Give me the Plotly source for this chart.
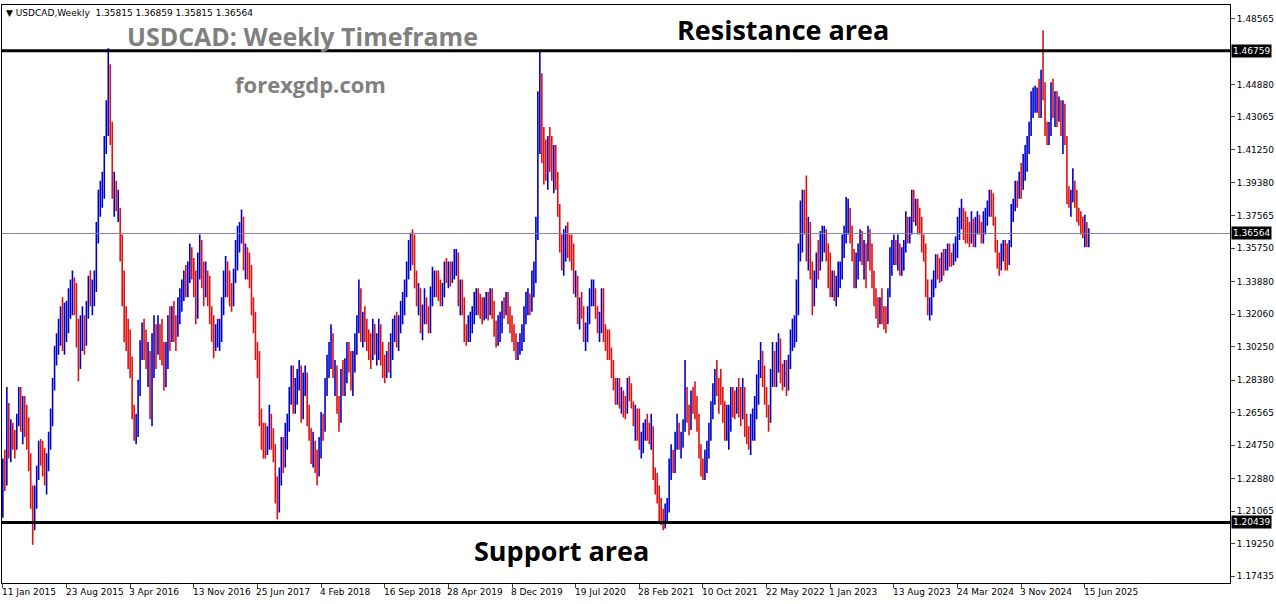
import pandas as pd
import plotly.graph_objects as go

# weekly bars, first week of Jan 2015 to first week of Jul 2025
closes = [
    # 2015
    1.215, 1.236, 1.227, 1.270, 1.244, 1.253, 1.250, 1.249, 1.262, 1.272, 1.262, 1.268, 1.267,
    1.249, 1.240, 1.219, 1.207, 1.218, 1.231, 1.245, 1.243, 1.237, 1.231, 1.239, 1.249, 1.265,
    1.280, 1.299, 1.308, 1.312, 1.317, 1.314, 1.315, 1.320, 1.328, 1.333, 1.336, 1.333, 1.309,
    1.303, 1.312, 1.315, 1.308, 1.322, 1.339, 1.333, 1.335, 1.338, 1.368, 1.383, 1.384, 1.388,
    # 2016
    1.415, 1.430, 1.455, 1.425, 1.390, 1.395, 1.384, 1.385, 1.360, 1.340, 1.313, 1.310, 1.298,
    1.293, 1.265, 1.255, 1.260, 1.280, 1.303, 1.312, 1.308, 1.295, 1.297, 1.265, 1.291, 1.310,
    1.302, 1.315, 1.305, 1.300, 1.283, 1.300, 1.314, 1.312, 1.320, 1.312, 1.312, 1.320, 1.328,
    1.335, 1.340, 1.338, 1.345, 1.352, 1.345, 1.340, 1.320, 1.350, 1.358, 1.344, 1.342, 1.343,
    # 2017
    1.340, 1.318, 1.310, 1.301, 1.308, 1.308, 1.312, 1.327, 1.338, 1.348, 1.335, 1.333, 1.330,
    1.342, 1.358, 1.365, 1.365, 1.372, 1.350, 1.352, 1.350, 1.345, 1.325, 1.318, 1.300, 1.297,
    1.262, 1.252, 1.250, 1.248, 1.250, 1.262, 1.253, 1.245, 1.222, 1.215, 1.232, 1.248, 1.240,
    1.255, 1.260, 1.275, 1.289, 1.272, 1.278, 1.285, 1.290, 1.265, 1.282, 1.284, 1.262, 1.257,
    # 2018
    1.244, 1.245, 1.238, 1.231, 1.248, 1.262, 1.256, 1.282, 1.292, 1.296, 1.312, 1.288, 1.289,
    1.268, 1.262, 1.285, 1.283, 1.290, 1.300, 1.298, 1.282, 1.296, 1.305, 1.315, 1.329, 1.313,
    1.318, 1.312, 1.306, 1.302, 1.298, 1.315, 1.302, 1.306, 1.312, 1.298, 1.292, 1.291, 1.295,
    1.292, 1.304, 1.314, 1.316, 1.308, 1.315, 1.322, 1.329, 1.337, 1.345, 1.358, 1.364, 1.362,
    # 2019
    1.340, 1.328, 1.330, 1.313, 1.322, 1.327, 1.320, 1.315, 1.333, 1.338, 1.342, 1.336, 1.335,
    1.330, 1.334, 1.346, 1.344, 1.345, 1.342, 1.344, 1.349, 1.351, 1.327, 1.335, 1.327, 1.309,
    1.308, 1.316, 1.317, 1.322, 1.330, 1.330, 1.328, 1.327, 1.320, 1.326, 1.330, 1.324, 1.330,
    1.323, 1.313, 1.307, 1.317, 1.318, 1.326, 1.323, 1.329, 1.320, 1.316, 1.310, 1.304, 1.298,
    # 2020
    1.302, 1.308, 1.312, 1.322, 1.328, 1.329, 1.326, 1.342, 1.345, 1.371, 1.440, 1.452, 1.420,
    1.408, 1.407, 1.412, 1.409, 1.398, 1.410, 1.396, 1.378, 1.362, 1.352, 1.362, 1.365, 1.362,
    1.360, 1.358, 1.335, 1.340, 1.317, 1.327, 1.322, 1.308, 1.313, 1.321, 1.332, 1.332, 1.333,
    1.322, 1.312, 1.318, 1.331, 1.310, 1.308, 1.308, 1.299, 1.290, 1.281, 1.275, 1.277, 1.272,
    # 2021
    1.274, 1.272, 1.271, 1.279, 1.277, 1.270, 1.260, 1.266, 1.255, 1.247, 1.249, 1.255, 1.256,
    1.254, 1.252, 1.254, 1.231, 1.229, 1.220, 1.208, 1.208, 1.207, 1.209, 1.212, 1.232, 1.240,
    1.235, 1.250, 1.257, 1.247, 1.250, 1.258, 1.272, 1.263, 1.261, 1.275, 1.272, 1.267, 1.258,
    1.245, 1.235, 1.232, 1.239, 1.245, 1.255, 1.268, 1.277, 1.284, 1.280, 1.273, 1.273, 1.264,
    # 2022
    1.255, 1.258, 1.265, 1.272, 1.270, 1.268, 1.275, 1.272, 1.262, 1.278, 1.258, 1.254, 1.249,
    1.260, 1.262, 1.271, 1.282, 1.288, 1.300, 1.288, 1.273, 1.265, 1.264, 1.285, 1.290, 1.288,
    1.295, 1.306, 1.287, 1.281, 1.289, 1.280, 1.293, 1.307, 1.313, 1.315, 1.337, 1.356, 1.381,
    1.385, 1.374, 1.355, 1.368, 1.343, 1.331, 1.341, 1.349, 1.348, 1.363, 1.363, 1.363, 1.354,
    # 2023
    1.343, 1.337, 1.338, 1.330, 1.338, 1.342, 1.347, 1.362, 1.366, 1.373, 1.375, 1.367, 1.354,
    1.341, 1.350, 1.357, 1.363, 1.352, 1.357, 1.355, 1.363, 1.357, 1.340, 1.333, 1.328, 1.323,
    1.326, 1.321, 1.319, 1.317, 1.331, 1.353, 1.354, 1.357, 1.356, 1.357, 1.347, 1.354, 1.356,
    1.372, 1.366, 1.367, 1.386, 1.375, 1.377, 1.372, 1.371, 1.359, 1.356, 1.335, 1.322, 1.324,
    # 2024
    1.337, 1.337, 1.348, 1.347, 1.344, 1.349, 1.348, 1.350, 1.356, 1.351, 1.348, 1.355, 1.355,
    1.370, 1.375, 1.378, 1.369, 1.368, 1.366, 1.366, 1.372, 1.362, 1.368, 1.373, 1.369, 1.366,
    1.374, 1.377, 1.380, 1.386, 1.384, 1.374, 1.360, 1.349, 1.348, 1.356, 1.356, 1.355, 1.352,
    1.359, 1.378, 1.381, 1.390, 1.386, 1.398, 1.390, 1.399, 1.405, 1.416, 1.424, 1.437, 1.438,
    # 2025
    1.440, 1.443, 1.437, 1.453, 1.445, 1.425, 1.417, 1.425, 1.445, 1.433, 1.440, 1.433, 1.437,
    1.431, 1.437, 1.418, 1.385, 1.383, 1.387, 1.394, 1.385, 1.375, 1.373, 1.370, 1.369, 1.370,
    1.361, 1.3656,
]
highs = [
    # 2015
    1.220, 1.240, 1.245, 1.280, 1.271, 1.262, 1.260, 1.256, 1.265, 1.280, 1.280, 1.275, 1.275,
    1.270, 1.263, 1.243, 1.225, 1.225, 1.236, 1.250, 1.251, 1.250, 1.246, 1.243, 1.255, 1.268,
    1.285, 1.303, 1.310, 1.318, 1.325, 1.330, 1.327, 1.328, 1.335, 1.340, 1.345, 1.341, 1.338,
    1.318, 1.320, 1.325, 1.320, 1.328, 1.342, 1.345, 1.340, 1.345, 1.372, 1.390, 1.395, 1.400,
    # 2016
    1.420, 1.440, 1.469, 1.460, 1.428, 1.400, 1.395, 1.390, 1.380, 1.365, 1.345, 1.325, 1.318,
    1.312, 1.297, 1.270, 1.265, 1.284, 1.306, 1.316, 1.318, 1.312, 1.305, 1.300, 1.310, 1.320,
    1.315, 1.320, 1.315, 1.318, 1.305, 1.305, 1.320, 1.325, 1.325, 1.328, 1.320, 1.330, 1.335,
    1.340, 1.345, 1.348, 1.350, 1.360, 1.358, 1.352, 1.345, 1.355, 1.365, 1.362, 1.350, 1.350,
    # 2017
    1.345, 1.342, 1.325, 1.320, 1.315, 1.318, 1.318, 1.330, 1.345, 1.353, 1.350, 1.345, 1.338,
    1.346, 1.362, 1.370, 1.372, 1.379, 1.375, 1.360, 1.358, 1.355, 1.348, 1.330, 1.322, 1.305,
    1.300, 1.268, 1.260, 1.260, 1.258, 1.270, 1.265, 1.257, 1.248, 1.230, 1.235, 1.252, 1.252,
    1.260, 1.265, 1.280, 1.292, 1.292, 1.285, 1.290, 1.295, 1.292, 1.288, 1.292, 1.288, 1.270,
    # 2018
    1.257, 1.255, 1.250, 1.245, 1.252, 1.266, 1.265, 1.285, 1.298, 1.305, 1.315, 1.310, 1.295,
    1.292, 1.275, 1.290, 1.295, 1.296, 1.305, 1.305, 1.300, 1.300, 1.310, 1.320, 1.340, 1.335,
    1.322, 1.325, 1.318, 1.312, 1.310, 1.318, 1.315, 1.310, 1.318, 1.315, 1.305, 1.298, 1.300,
    1.305, 1.310, 1.318, 1.320, 1.322, 1.320, 1.328, 1.333, 1.340, 1.350, 1.362, 1.366, 1.368,
    # 2019
    1.365, 1.345, 1.338, 1.335, 1.326, 1.335, 1.330, 1.325, 1.336, 1.347, 1.345, 1.345, 1.345,
    1.340, 1.338, 1.350, 1.352, 1.350, 1.350, 1.350, 1.357, 1.357, 1.355, 1.340, 1.340, 1.330,
    1.315, 1.320, 1.322, 1.325, 1.333, 1.335, 1.335, 1.332, 1.330, 1.330, 1.333, 1.333, 1.335,
    1.335, 1.328, 1.317, 1.320, 1.322, 1.328, 1.330, 1.333, 1.333, 1.325, 1.320, 1.315, 1.310,
    # 2020
    1.305, 1.310, 1.315, 1.325, 1.333, 1.335, 1.332, 1.345, 1.350, 1.375, 1.445, 1.467, 1.455,
    1.425, 1.418, 1.420, 1.425, 1.420, 1.415, 1.415, 1.400, 1.382, 1.365, 1.368, 1.370, 1.372,
    1.365, 1.365, 1.360, 1.345, 1.342, 1.330, 1.333, 1.325, 1.316, 1.325, 1.335, 1.340, 1.340,
    1.335, 1.325, 1.322, 1.335, 1.335, 1.315, 1.312, 1.312, 1.302, 1.295, 1.285, 1.285, 1.285,
    # 2021
    1.280, 1.278, 1.275, 1.285, 1.286, 1.282, 1.272, 1.270, 1.268, 1.268, 1.255, 1.260, 1.262,
    1.265, 1.260, 1.265, 1.258, 1.235, 1.232, 1.225, 1.218, 1.212, 1.215, 1.218, 1.240, 1.248,
    1.245, 1.255, 1.265, 1.260, 1.255, 1.262, 1.295, 1.280, 1.270, 1.278, 1.280, 1.283, 1.275,
    1.265, 1.248, 1.240, 1.245, 1.250, 1.260, 1.272, 1.282, 1.290, 1.295, 1.285, 1.290, 1.280,
    # 2022
    1.272, 1.270, 1.270, 1.280, 1.280, 1.278, 1.280, 1.285, 1.280, 1.285, 1.280, 1.265, 1.258,
    1.265, 1.268, 1.275, 1.287, 1.295, 1.305, 1.300, 1.292, 1.280, 1.270, 1.290, 1.305, 1.300,
    1.305, 1.310, 1.307, 1.293, 1.295, 1.295, 1.298, 1.312, 1.318, 1.320, 1.340, 1.360, 1.384,
    1.390, 1.390, 1.398, 1.375, 1.372, 1.350, 1.345, 1.355, 1.362, 1.367, 1.370, 1.370, 1.368,
    # 2023
    1.360, 1.355, 1.345, 1.345, 1.342, 1.350, 1.350, 1.365, 1.370, 1.386, 1.385, 1.380, 1.370,
    1.357, 1.355, 1.360, 1.368, 1.367, 1.362, 1.360, 1.370, 1.368, 1.360, 1.345, 1.335, 1.330,
    1.330, 1.335, 1.325, 1.325, 1.335, 1.358, 1.362, 1.365, 1.362, 1.365, 1.360, 1.358, 1.362,
    1.378, 1.375, 1.375, 1.390, 1.390, 1.385, 1.385, 1.380, 1.375, 1.365, 1.360, 1.340, 1.330,
    # 2024
    1.340, 1.345, 1.354, 1.354, 1.352, 1.355, 1.357, 1.357, 1.360, 1.360, 1.355, 1.360, 1.364,
    1.375, 1.380, 1.385, 1.380, 1.378, 1.375, 1.372, 1.378, 1.374, 1.375, 1.378, 1.376, 1.372,
    1.378, 1.380, 1.384, 1.390, 1.390, 1.388, 1.375, 1.362, 1.355, 1.360, 1.362, 1.362, 1.360,
    1.362, 1.382, 1.385, 1.395, 1.395, 1.400, 1.405, 1.410, 1.415, 1.420, 1.428, 1.445, 1.447,
    # 2025
    1.448, 1.447, 1.452, 1.457, 1.479, 1.450, 1.428, 1.428, 1.450, 1.452, 1.445, 1.445, 1.442,
    1.440, 1.440, 1.438, 1.420, 1.392, 1.390, 1.402, 1.395, 1.390, 1.380, 1.378, 1.375, 1.376,
    1.372, 1.3686,
]
lows = [
    # 2015
    1.176, 1.207, 1.222, 1.225, 1.240, 1.238, 1.245, 1.240, 1.245, 1.258, 1.255, 1.248, 1.252,
    1.245, 1.233, 1.212, 1.192, 1.200, 1.212, 1.228, 1.236, 1.230, 1.225, 1.220, 1.233, 1.245,
    1.258, 1.278, 1.292, 1.298, 1.303, 1.300, 1.298, 1.305, 1.310, 1.318, 1.320, 1.320, 1.302,
    1.283, 1.290, 1.300, 1.298, 1.303, 1.318, 1.325, 1.320, 1.325, 1.333, 1.360, 1.375, 1.380,
    # 2016
    1.385, 1.410, 1.420, 1.415, 1.385, 1.375, 1.378, 1.372, 1.350, 1.325, 1.305, 1.300, 1.290,
    1.285, 1.262, 1.250, 1.248, 1.252, 1.275, 1.295, 1.295, 1.290, 1.280, 1.262, 1.258, 1.285,
    1.290, 1.298, 1.295, 1.292, 1.278, 1.280, 1.290, 1.300, 1.305, 1.305, 1.300, 1.308, 1.315,
    1.322, 1.328, 1.330, 1.330, 1.338, 1.340, 1.330, 1.315, 1.318, 1.340, 1.335, 1.325, 1.330,
    # 2017
    1.325, 1.315, 1.305, 1.296, 1.300, 1.302, 1.300, 1.305, 1.320, 1.330, 1.330, 1.325, 1.322,
    1.325, 1.338, 1.345, 1.355, 1.360, 1.345, 1.340, 1.340, 1.335, 1.320, 1.310, 1.295, 1.285,
    1.258, 1.245, 1.240, 1.240, 1.242, 1.245, 1.245, 1.238, 1.215, 1.206, 1.210, 1.225, 1.232,
    1.235, 1.245, 1.255, 1.270, 1.265, 1.265, 1.270, 1.278, 1.260, 1.262, 1.275, 1.258, 1.250,
    # 2018
    1.237, 1.235, 1.232, 1.225, 1.230, 1.240, 1.250, 1.255, 1.275, 1.285, 1.290, 1.285, 1.275,
    1.265, 1.255, 1.260, 1.275, 1.275, 1.282, 1.288, 1.278, 1.275, 1.288, 1.298, 1.310, 1.305,
    1.302, 1.305, 1.300, 1.295, 1.290, 1.295, 1.298, 1.292, 1.295, 1.292, 1.285, 1.282, 1.285,
    1.288, 1.285, 1.295, 1.305, 1.302, 1.300, 1.310, 1.315, 1.320, 1.330, 1.340, 1.345, 1.348,
    # 2019
    1.335, 1.325, 1.320, 1.310, 1.306, 1.315, 1.315, 1.310, 1.310, 1.325, 1.330, 1.330, 1.328,
    1.325, 1.325, 1.330, 1.338, 1.335, 1.336, 1.338, 1.340, 1.342, 1.325, 1.320, 1.320, 1.305,
    1.303, 1.305, 1.305, 1.310, 1.315, 1.320, 1.320, 1.318, 1.315, 1.317, 1.318, 1.317, 1.320,
    1.318, 1.308, 1.302, 1.303, 1.305, 1.310, 1.318, 1.320, 1.315, 1.310, 1.305, 1.300, 1.295,
    # 2020
    1.295, 1.298, 1.300, 1.305, 1.315, 1.320, 1.320, 1.322, 1.330, 1.338, 1.362, 1.410, 1.405,
    1.393, 1.395, 1.390, 1.400, 1.395, 1.388, 1.390, 1.375, 1.355, 1.345, 1.342, 1.350, 1.352,
    1.350, 1.345, 1.332, 1.330, 1.315, 1.312, 1.318, 1.305, 1.300, 1.305, 1.315, 1.325, 1.325,
    1.318, 1.310, 1.305, 1.310, 1.305, 1.300, 1.295, 1.295, 1.285, 1.278, 1.270, 1.270, 1.268,
    # 2021
    1.265, 1.263, 1.262, 1.265, 1.272, 1.268, 1.258, 1.250, 1.250, 1.245, 1.240, 1.243, 1.250,
    1.250, 1.248, 1.245, 1.228, 1.220, 1.215, 1.205, 1.203, 1.200, 1.201, 1.205, 1.210, 1.228,
    1.232, 1.232, 1.245, 1.245, 1.240, 1.246, 1.255, 1.260, 1.253, 1.256, 1.265, 1.262, 1.255,
    1.240, 1.230, 1.228, 1.228, 1.232, 1.240, 1.250, 1.262, 1.270, 1.275, 1.265, 1.270, 1.260,
    # 2022
    1.250, 1.250, 1.245, 1.255, 1.263, 1.262, 1.265, 1.263, 1.258, 1.262, 1.252, 1.248, 1.245,
    1.242, 1.250, 1.250, 1.262, 1.270, 1.285, 1.280, 1.270, 1.263, 1.255, 1.260, 1.280, 1.280,
    1.280, 1.288, 1.282, 1.278, 1.280, 1.275, 1.278, 1.290, 1.300, 1.302, 1.305, 1.320, 1.350,
    1.355, 1.365, 1.350, 1.345, 1.340, 1.320, 1.325, 1.335, 1.340, 1.345, 1.350, 1.355, 1.350,
    # 2023
    1.335, 1.330, 1.330, 1.328, 1.325, 1.330, 1.335, 1.340, 1.352, 1.360, 1.365, 1.360, 1.350,
    1.335, 1.335, 1.340, 1.350, 1.348, 1.340, 1.335, 1.350, 1.345, 1.335, 1.325, 1.318, 1.313,
    1.315, 1.315, 1.312, 1.310, 1.315, 1.330, 1.342, 1.348, 1.348, 1.345, 1.342, 1.342, 1.345,
    1.355, 1.360, 1.360, 1.365, 1.372, 1.370, 1.365, 1.365, 1.355, 1.350, 1.330, 1.320, 1.317,
    # 2024
    1.320, 1.330, 1.335, 1.340, 1.338, 1.339, 1.342, 1.345, 1.345, 1.347, 1.347, 1.348, 1.350,
    1.352, 1.362, 1.368, 1.362, 1.360, 1.360, 1.358, 1.360, 1.358, 1.358, 1.365, 1.365, 1.360,
    1.360, 1.365, 1.370, 1.375, 1.375, 1.370, 1.355, 1.346, 1.342, 1.345, 1.350, 1.345, 1.345,
    1.348, 1.358, 1.372, 1.378, 1.380, 1.385, 1.385, 1.390, 1.395, 1.400, 1.410, 1.420, 1.430,
    # 2025
    1.433, 1.433, 1.430, 1.430, 1.440, 1.420, 1.415, 1.415, 1.420, 1.430, 1.425, 1.425, 1.428,
    1.420, 1.410, 1.415, 1.382, 1.380, 1.375, 1.383, 1.380, 1.372, 1.370, 1.365, 1.363, 1.358,
    1.358, 1.358,
]
assert len(closes) == len(highs) == len(lows), (len(closes), len(highs), len(lows))
opens = [1.180] + closes[:-1]
dates = pd.date_range("2015-01-04", periods=len(closes), freq="7D")

tick_dates = ["2015-01-11", "2015-08-23", "2016-04-03", "2016-11-13", "2017-06-25", "2018-02-04",
              "2018-09-16", "2019-04-28", "2019-12-08", "2020-07-19", "2021-02-28", "2021-10-10",
              "2022-05-22", "2023-01-01", "2023-08-13", "2024-03-24", "2024-11-03", "2025-06-15"]
tick_text = ["11 Jan 2015", "23 Aug 2015", "3 Apr 2016", "13 Nov 2016", "25 Jun 2017", "4 Feb 2018",
             "16 Sep 2018", "28 Apr 2019", "8 Dec 2019", "19 Jul 2020", "28 Feb 2021", "10 Oct 2021",
             "22 May 2022", "1 Jan 2023", "13 Aug 2023", "24 Mar 2024", "3 Nov 2024", "15 Jun 2025"]
y_ticks = [1.17435, 1.19250, 1.21065, 1.22880, 1.24750, 1.26565, 1.28380, 1.30250, 1.32060,
           1.33880, 1.35750, 1.37565, 1.39380, 1.41250, 1.43065, 1.44880, 1.48565]

resistance = 1.46759
support = 1.20439
last_price = 1.36564

fig = go.Figure(go.Ohlc(
    x=dates, open=opens, high=highs, low=lows, close=closes,
    increasing_line_color="#0000CC", decreasing_line_color="#E01010",
    line_width=1.6, tickwidth=0.15, showlegend=False, hoverinfo="skip"))

for lvl, w, col in [(resistance, 3, "black"), (support, 3, "black"), (last_price, 1, "#7A8794")]:
    fig.add_hline(y=lvl, line_color=col, line_width=w)
    fig.add_annotation(x=1, xref="paper", xanchor="left", y=lvl, xshift=1, text=f"{lvl:.5f}",
                       showarrow=False, bgcolor="black", font=dict(color="white", size=9),
                       borderpad=1)

labels = [("<b>USDCAD: Weekly Timeframe</b>", 0.245, 0.946, 25, "#808080"),
          ("<b>forexgdp.com</b>", 0.251, 0.863, 22, "#808080"),
          ("<b>Resistance area</b>", 0.636, 0.957, 27, "black"),
          ("<b>Support area</b>", 0.456, 0.057, 27, "black")]
for txt, xp, yp, sz, col in labels:
    fig.add_annotation(x=xp, y=yp, xref="paper", yref="paper", xanchor="center", yanchor="middle",
                       text=txt, showarrow=False, font=dict(size=sz, color=col, family="Open Sans"))
fig.add_annotation(x=0.002, y=0.998, xref="paper", yref="paper", xanchor="left", yanchor="top",
                   text="▼ USDCAD,Weekly  1.35815 1.36859 1.35815 1.36564",
                   showarrow=False, font=dict(size=9, color="black"))
# MT4 style date labels start at their tick
for d, t in zip(tick_dates, tick_text):
    fig.add_annotation(x=d, y=0, yref="paper", xanchor="left", yanchor="top", yshift=-2,
                       xshift=-3, text=t, showarrow=False, font=dict(size=9, color="black"))

fig.update_layout(
    width=1276, height=604, margin=dict(l=2, r=46, t=5, b=21, autoexpand=False),
    plot_bgcolor="white", paper_bgcolor="white",
    font=dict(family="DejaVu Sans", size=9, color="black"),
    xaxis=dict(rangeslider_visible=False, tickvals=tick_dates, showticklabels=False,
               range=["2015-01-08", "2026-11-08"], showgrid=False, ticks="outside",
               ticklen=4, showline=True, linecolor="black", mirror=True, automargin=False),
    yaxis=dict(side="right", range=[1.1706, 1.4931], tickvals=y_ticks,
               ticktext=[f"{v:.5f}" for v in y_ticks], showgrid=False, ticks="outside",
               ticklen=4, showline=True, linecolor="black", mirror=True, automargin=False),
)

fig.write_html("out.html", config={"displayModeBar": False},
               post_script="document.body.style.margin='0';")
